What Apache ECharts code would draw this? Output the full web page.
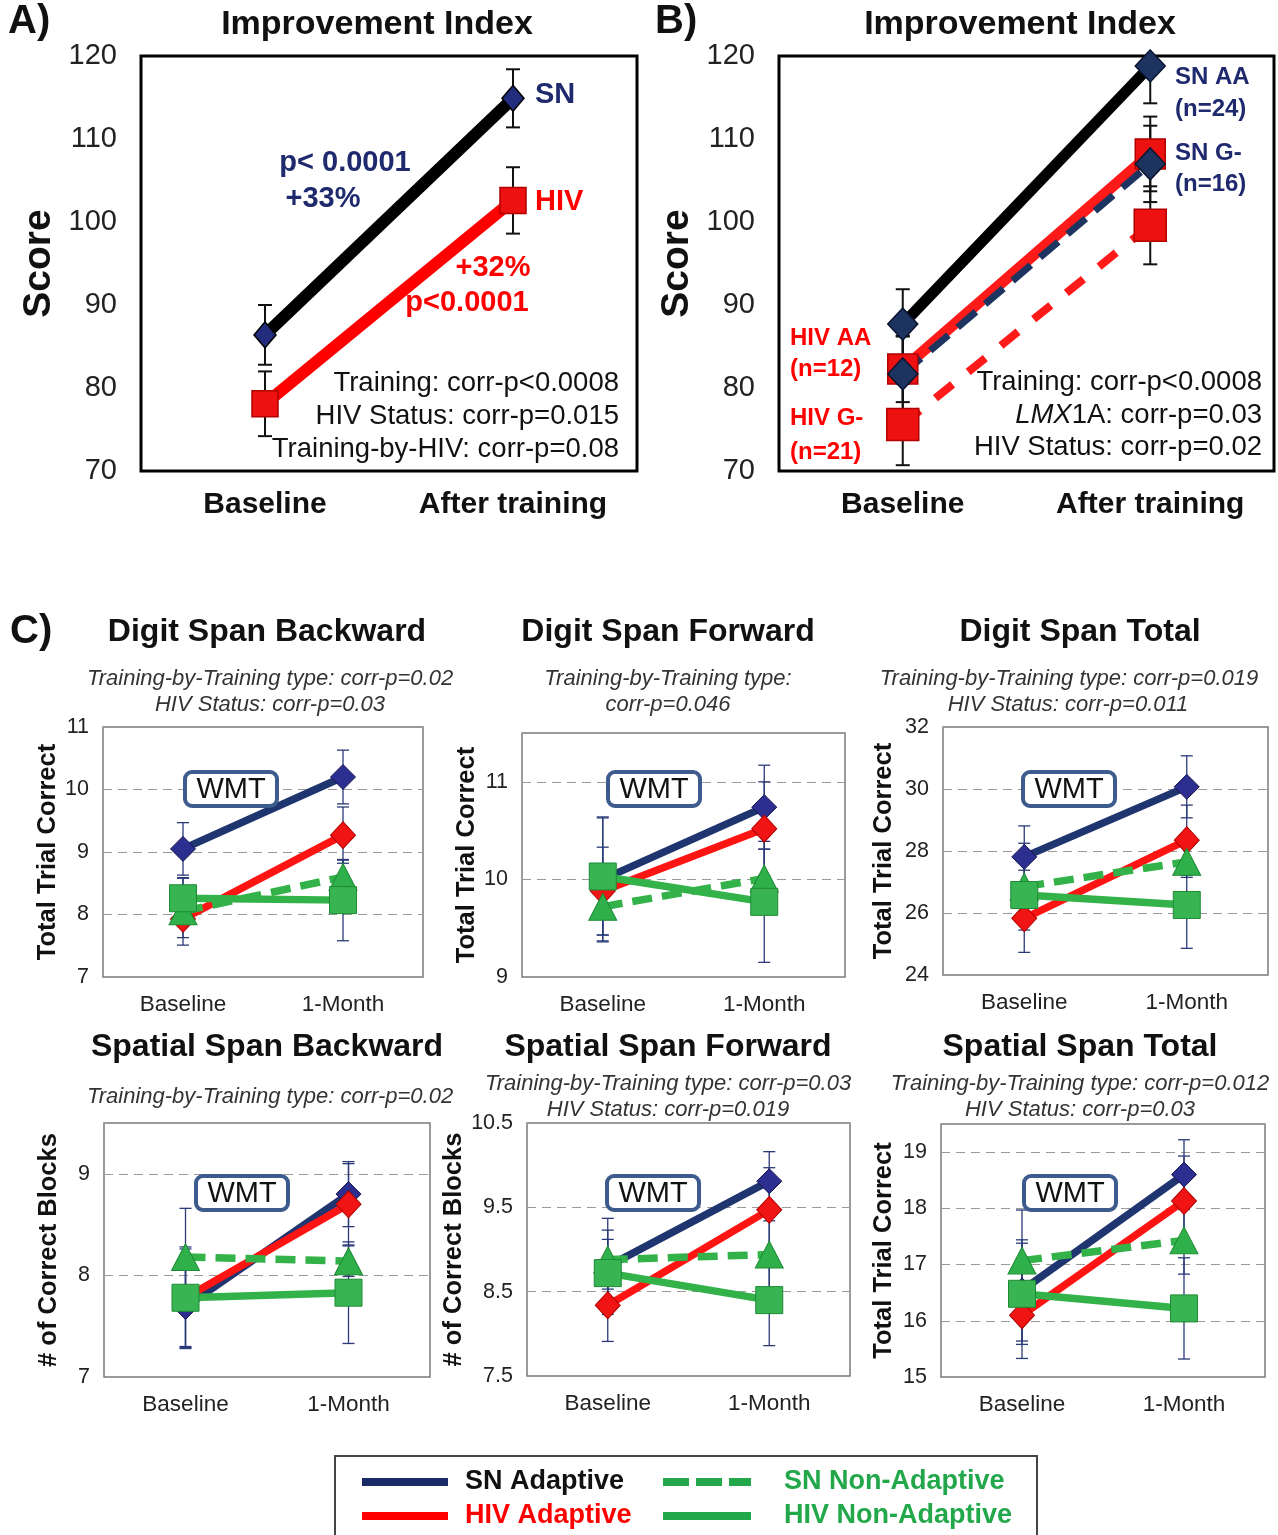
<!DOCTYPE html>
<html><head><meta charset="utf-8">
<script src="https://cdn.jsdelivr.net/npm/echarts@6/dist/echarts.min.js"></script>
<style>html,body{margin:0;padding:0;background:#fff}#c{width:1278px;height:1535px}</style>
</head><body><div id="c"></div>
<script>
// ---------------- DATA ----------------
const catsAB = ['Baseline', 'After training'];
const catsC = ['Baseline', '1-Month'];

// Panel A (Improvement Index)
const aSN = [86.4, 114.9];
const aSNErr = [3.6, 3.5];
const aHIV = [78.1, 102.6];
const aHIVErr = [3.9, 4.0];
const aTicks = [70, 80, 90, 100, 110, 120];

// Panel B (Improvement Index by LMX1A)
const bSNAA = [87.7, 118.8];
const bSNAAErr = [4.2, 4.5];
const bHIVAA = [82.3, 108.2];
const bHIVAAErr = [4.0, 4.5];
const bSNG = [81.7, 107.0];
const bSNGErr = [4.5, 4.6];
const bHIVG = [75.6, 99.6];
const bHIVGErr = [4.9, 4.7];
const bTicks = [70, 80, 90, 100, 110, 120];

// Panel C: Digit Span Backward
const dsbSNA = [9.05, 10.2];   const dsbSNAErr = [0.42, 0.43];
const dsbHIVA = [7.93, 9.27];  const dsbHIVAErr = [0.3, 0.45];
const dsbSNN = [8.05, 8.6];    const dsbSNNErr = [0.54, 0.27];
const dsbHIVN = [8.26, 8.23];  const dsbHIVNErr = [0.32, 0.65];
const dsbTicks = [7, 8, 9, 10, 11];
// Digit Span Forward
const dsfSNA = [10.0, 10.74];  const dsfSNAErr = [0.64, 0.43];
const dsfHIVA = [9.88, 10.52]; const dsfHIVAErr = [0.45, 0.48];
const dsfSNN = [9.72, 10.01];  const dsfSNNErr = [0.35, 0.3];
const dsfHIVN = [10.03, 9.77]; const dsfHIVNErr = [0.6, 0.62];
const dsfTicks = [9, 10, 11];
// Digit Span Total
const dstSNA = [27.81, 30.07]; const dstSNAErr = [1.0, 1.0];
const dstHIVA = [25.83, 28.35]; const dstHIVAErr = [1.1, 1.13];
const dstSNN = [26.85, 27.65]; const dstSNNErr = [1.4, 0.5];
const dstHIVN = [26.58, 26.26]; const dstHIVNErr = [0.8, 1.4];
const dstTicks = [24, 26, 28, 30, 32];
// Spatial Span Backward
const ssbSNA = [7.69, 8.8];    const ssbSNAErr = [0.4, 0.32];
const ssbHIVA = [7.78, 8.7];   const ssbHIVAErr = [0.48, 0.4];
const ssbSNN = [8.18, 8.14];   const ssbSNNErr = [0.48, 0.15];
const ssbHIVN = [7.78, 7.83];  const ssbHIVNErr = [0.5, 0.5];
const ssbTicks = [7, 8, 9];
// Spatial Span Forward
const ssfSNA = [8.8, 9.81];    const ssfSNAErr = [0.57, 0.35];
const ssfHIVA = [8.34, 9.47];  const ssfHIVAErr = [0.43, 0.5];
const ssfSNN = [8.88, 8.94];   const ssfSNNErr = [0.35, 0.4];
const ssfHIVN = [8.72, 8.4];   const ssfHIVNErr = [0.4, 0.54];
const ssfTicks = [7.5, 8.5, 9.5, 10.5];
// Spatial Span Total
const sstSNA = [16.54, 18.6];  const sstSNAErr = [0.9, 0.62];
const sstHIVA = [16.1, 18.13]; const sstHIVAErr = [0.77, 0.8];
const sstSNN = [17.07, 17.43]; const sstSNNErr = [0.9, 0.6];
const sstHIVN = [16.48, 16.22]; const sstHIVNErr = [0.9, 0.9];
const sstTicks = [15, 16, 17, 18, 19];

// ---------------- STYLE / LAYOUT ----------------
const FONT = 'Liberation Sans, Arial, sans-serif';
const NAVY = '#1f3570', RED = '#ff1414', GREEN = '#33b24a';

const grids = [
  {left: 141, top: 56, width: 496, height: 415},   // A
  {left: 779, top: 56, width: 495, height: 415},   // B
  {left: 103, top: 727, width: 320, height: 250},  // C1
  {left: 522, top: 733, width: 323, height: 244},  // C2
  {left: 943, top: 727, width: 325, height: 248},  // C3
  {left: 104, top: 1123, width: 326, height: 254}, // C4
  {left: 527, top: 1123, width: 323, height: 253}, // C5
  {left: 941, top: 1124, width: 324, height: 253}  // C6
];

function tickFmt(ticks) {
  return v => ticks.some(t => Math.abs(t - v) < 1e-6) ? String(v) : '';
}

const cPanels = [
  {d: [dsbSNA, dsbHIVA, dsbSNN, dsbHIVN], e: [dsbSNAErr, dsbHIVAErr, dsbSNNErr, dsbHIVNErr], ticks: dsbTicks, min: 7, max: 11, interval: 1, yName: 'Total Trial Correct', gap: 40},
  {d: [dsfSNA, dsfHIVA, dsfSNN, dsfHIVN], e: [dsfSNAErr, dsfHIVAErr, dsfSNNErr, dsfHIVNErr], ticks: dsfTicks, min: 9, max: 11.5, interval: 1, yName: 'Total Trial Correct', gap: 42},
  {d: [dstSNA, dstHIVA, dstSNN, dstHIVN], e: [dstSNAErr, dstHIVAErr, dstSNNErr, dstHIVNErr], ticks: dstTicks, min: 24, max: 32, interval: 2, yName: 'Total Trial Correct', gap: 46},
  {d: [ssbSNA, ssbHIVA, ssbSNN, ssbHIVN], e: [ssbSNAErr, ssbHIVAErr, ssbSNNErr, ssbHIVNErr], ticks: ssbTicks, min: 7, max: 9.5, interval: 1, yName: '# of Correct Blocks', gap: 42},
  {d: [ssfSNA, ssfHIVA, ssfSNN, ssfHIVN], e: [ssfSNAErr, ssfHIVAErr, ssfSNNErr, ssfHIVNErr], ticks: ssfTicks, min: 7.5, max: 10.5, interval: 1, yName: '# of Correct Blocks', gap: 51},
  {d: [sstSNA, sstHIVA, sstSNN, sstHIVN], e: [sstSNAErr, sstHIVAErr, sstSNNErr, sstHIVNErr], ticks: sstTicks, min: 15, max: 19.5, interval: 1, yName: 'Total Trial Correct', gap: 44}
];

function errSeries(ax, vals, errs, color, lw, cap) {
  return {
    type: 'custom', xAxisIndex: ax, yAxisIndex: ax, clip: true, silent: true, z: 2,
    data: vals.map((v, i) => [i, v - errs[i], v + errs[i]]),
    encode: {x: 0, y: [1, 2]},
    renderItem(params, api) {
      const x = api.value(0);
      const lo = api.coord([x, api.value(1)]);
      const hi = api.coord([x, api.value(2)]);
      const st = {stroke: color, lineWidth: lw};
      return {type: 'group', children: [
        {type: 'line', shape: {x1: lo[0], y1: lo[1], x2: hi[0], y2: hi[1]}, style: st},
        {type: 'line', shape: {x1: lo[0] - cap, y1: lo[1], x2: lo[0] + cap, y2: lo[1]}, style: st},
        {type: 'line', shape: {x1: hi[0] - cap, y1: hi[1], x2: hi[0] + cap, y2: hi[1]}, style: st}
      ]};
    }
  };
}

const xAxes = [], yAxes = [], gridOpts = [];
grids.forEach((g, i) => {
  const big = i < 2;
  gridOpts.push(Object.assign({show: true, borderColor: big ? '#000' : '#7a7a7a', borderWidth: big ? 3 : 1.5, backgroundColor: 'transparent'}, g));
  xAxes.push({
    type: 'category', gridIndex: i, data: big ? catsAB : catsC, boundaryGap: true,
    axisLine: {show: false}, axisTick: {show: false}, splitLine: {show: false},
    axisLabel: big ? {fontSize: 30, fontWeight: 'bold', color: '#111', margin: 19, fontFamily: FONT}
                   : {fontSize: 22.5, color: '#222', margin: 16, fontFamily: FONT}
  });
});
// A & B y axes
[aTicks, bTicks].forEach((t, i) => {
  yAxes.push({
    type: 'value', gridIndex: i, min: 70, max: 120, interval: 10,
    name: 'Score', nameLocation: 'middle', nameRotate: 90, nameGap: 82,
    nameTextStyle: {fontSize: 39, fontWeight: 'bold', color: '#111', fontFamily: FONT},
    axisLine: {show: false}, axisTick: {show: false}, splitLine: {show: false},
    axisLabel: {fontSize: 29, color: '#222', margin: 24, fontFamily: FONT, formatter: tickFmt(t)}
  });
});
cPanels.forEach((p, k) => {
  yAxes.push({
    type: 'value', gridIndex: k + 2, min: p.min, max: p.max, interval: p.interval,
    name: p.yName, nameLocation: 'middle', nameRotate: 90, nameGap: p.gap,
    nameTextStyle: {fontSize: 25.5, fontWeight: 'bold', color: '#111', fontFamily: FONT},
    axisLine: {show: false}, axisTick: {show: false},
    splitLine: {show: true, lineStyle: {color: '#9a9a9a', type: [9, 6], width: 1.2}},
    axisLabel: {fontSize: 21.5, color: '#222', margin: 14, fontFamily: FONT, formatter: tickFmt(p.ticks)}
  });
});

const series = [];
// error bars first (drawn beneath lines/markers)
series.push(errSeries(0, aSN, aSNErr, '#111', 2, 7));
series.push(errSeries(0, aHIV, aHIVErr, '#111', 2, 7));
series.push(errSeries(1, bSNAA, bSNAAErr, '#111', 2, 7));
series.push(errSeries(1, bHIVAA, bHIVAAErr, '#111', 2, 7));
series.push(errSeries(1, bSNG, bSNGErr, '#111', 2, 7));
series.push(errSeries(1, bHIVG, bHIVGErr, '#111', 2, 7));
cPanels.forEach((p, k) => {
  p.d.forEach((vals, j) => series.push(errSeries(k + 2, vals, p.e[j], '#2a3a78', 1.3, 6)));
});

// Panel A lines
series.push({type: 'line', name: 'A SN', xAxisIndex: 0, yAxisIndex: 0, data: aSN, z: 3,
  lineStyle: {color: '#000', width: 12}, symbol: 'diamond', symbolSize: [22, 26],
  itemStyle: {color: '#232d7d', borderColor: '#000', borderWidth: 1.5}});
series.push({type: 'line', name: 'A HIV', xAxisIndex: 0, yAxisIndex: 0, data: aHIV, z: 3,
  lineStyle: {color: '#ff0000', width: 12}, symbol: 'rect', symbolSize: 26,
  itemStyle: {color: '#ee1111', borderColor: '#b00000', borderWidth: 1.5}});
// Panel B lines
series.push({type: 'line', name: 'B SN AA', xAxisIndex: 1, yAxisIndex: 1, data: bSNAA, z: 3,
  lineStyle: {color: '#000', width: 11}, symbol: 'diamond', symbolSize: [30, 32],
  itemStyle: {color: '#1d3461', borderColor: '#0b1530', borderWidth: 1.5}});
series.push({type: 'line', name: 'B HIV G-', xAxisIndex: 1, yAxisIndex: 1, data: bHIVG, z: 3,
  lineStyle: {color: '#ff1a1a', width: 8, type: [22, 20]}, symbol: 'rect', symbolSize: 32,
  itemStyle: {color: '#ee1111', borderColor: '#b00000', borderWidth: 1.5}});
series.push({type: 'line', name: 'B HIV AA', xAxisIndex: 1, yAxisIndex: 1, data: bHIVAA, z: 3,
  lineStyle: {color: '#ff1a1a', width: 11}, symbol: 'rect', symbolSize: 30,
  itemStyle: {color: '#ee1111', borderColor: '#b00000', borderWidth: 1.5}});
series.push({type: 'line', name: 'B SN G-', xAxisIndex: 1, yAxisIndex: 1, data: bSNG, z: 3,
  lineStyle: {color: '#1d3461', width: 7, type: [24, 12]}, symbol: 'diamond', symbolSize: [30, 32],
  itemStyle: {color: '#1d3461', borderColor: '#0b1530', borderWidth: 1.5}});

// Panel C lines
const cStyles = [
  {name: 'SN Adaptive', line: {color: NAVY, width: 7.5}, symbol: 'diamond', size: [25, 25], item: {color: '#2c2f8f', borderColor: '#15154f', borderWidth: 1}},
  {name: 'HIV Adaptive', line: {color: RED, width: 7.5}, symbol: 'diamond', size: [25, 27], item: {color: '#f01414', borderColor: '#b00000', borderWidth: 1}},
  {name: 'SN Non-Adaptive', line: {color: GREEN, width: 7.5, type: [20, 10]}, symbol: 'triangle', size: [28, 27], item: {color: '#2fb04a', borderColor: '#1d8a35', borderWidth: 1}},
  {name: 'HIV Non-Adaptive', line: {color: GREEN, width: 7.5}, symbol: 'rect', size: 27, item: {color: '#38b552', borderColor: '#1d8a35', borderWidth: 1}}
];
cPanels.forEach((p, k) => {
  p.d.forEach((vals, j) => {
    const s = cStyles[j];
    series.push({type: 'line', name: s.name, xAxisIndex: k + 2, yAxisIndex: k + 2, data: vals, z: 3,
      lineStyle: s.line, symbol: s.symbol, symbolSize: s.size, itemStyle: s.item});
  });
});

// ---------------- TEXT ----------------
function txt(x, y, text, size, opt) {
  return {type: 'text', x, y, silent: true, z: 10, style: Object.assign({
    text, font: (opt && opt.font) || ('bold ' + size + 'px ' + FONT), fill: '#111',
    textAlign: 'center', textVerticalAlign: 'middle'}, opt || {})};
}
function fnt(style, weight, size) { return style + ' ' + weight + ' ' + size + 'px ' + FONT; }
const IT = fnt('italic', 'normal', 22);
const REG26 = fnt('normal', 'normal', 27.5);
const graphics = [
  txt(8, 22, 'A)', 40, {textAlign: 'left'}),
  txt(377, 25, 'Improvement Index', 34),
  txt(535, 95, 'SN', 29, {textAlign: 'left', fill: '#1f2a6e'}),
  txt(535, 202, 'HIV', 29, {textAlign: 'left', fill: '#ff0000'}),
  txt(345, 163, 'p< 0.0001', 29, {fill: '#1f2a6e'}),
  txt(323, 199, '+33%', 29, {fill: '#1f2a6e'}),
  txt(493, 268, '+32%', 29, {fill: '#ff0000'}),
  txt(467, 303, 'p<0.0001', 29, {fill: '#ff0000'}),
  txt(619, 383, 'Training: corr-p<0.0008', 26, {font: REG26, textAlign: 'right'}),
  txt(619, 416, 'HIV Status: corr-p=0.015', 26, {font: REG26, textAlign: 'right'}),
  txt(619, 449, 'Training-by-HIV: corr-p=0.08', 26, {font: REG26, textAlign: 'right'}),

  txt(655, 22, 'B)', 40, {textAlign: 'left'}),
  txt(1020, 25, 'Improvement Index', 34),
  txt(1175, 77, 'SN AA', 24, {textAlign: 'left', fill: '#1f2a6e'}),
  txt(1175, 109, '(n=24)', 24, {textAlign: 'left', fill: '#1f2a6e'}),
  txt(1175, 153, 'SN G-', 24, {textAlign: 'left', fill: '#1f2a6e'}),
  txt(1175, 184, '(n=16)', 24, {textAlign: 'left', fill: '#1f2a6e'}),
  txt(790, 338, 'HIV AA', 24, {textAlign: 'left', fill: '#ff0000'}),
  txt(790, 369, '(n=12)', 24, {textAlign: 'left', fill: '#ff0000'}),
  txt(790, 418, 'HIV G-', 24, {textAlign: 'left', fill: '#ff0000'}),
  txt(790, 452, '(n=21)', 24, {textAlign: 'left', fill: '#ff0000'}),
  txt(1262, 382, 'Training: corr-p<0.0008', 26, {font: REG26, textAlign: 'right'}),
  {type: 'text', x: 1262, y: 415, silent: true, z: 10, style: {text: '{i|LMX}1A: corr-p=0.03', font: REG26, fill: '#111', textAlign: 'right', textVerticalAlign: 'middle',
    rich: {i: {font: fnt('italic', 'normal', 27.5), fill: '#111'}}}},
  txt(1262, 447, 'HIV Status: corr-p=0.02', 26, {font: REG26, textAlign: 'right'}),

  txt(10, 632, 'C)', 40, {textAlign: 'left'}),
  txt(267, 632, 'Digit Span Backward', 32),
  txt(668, 632, 'Digit Span Forward', 32),
  txt(1080, 632, 'Digit Span Total', 32),
  txt(267, 1047, 'Spatial Span Backward', 32),
  txt(668, 1047, 'Spatial Span Forward', 32),
  txt(1080, 1047, 'Spatial Span Total', 32),
  txt(270, 679, 'Training-by-Training type: corr-p=0.02', 21, {font: IT, fill: '#333'}),
  txt(270, 705, 'HIV Status: corr-p=0.03', 21, {font: IT, fill: '#333'}),
  txt(668, 679, 'Training-by-Training type:', 21, {font: IT, fill: '#333'}),
  txt(668, 705, 'corr-p=0.046', 21, {font: IT, fill: '#333'}),
  txt(1069, 679, 'Training-by-Training type: corr-p=0.019', 21, {font: IT, fill: '#333'}),
  txt(1068, 705, 'HIV Status: corr-p=0.011', 21, {font: IT, fill: '#333'}),
  txt(270, 1097, 'Training-by-Training type: corr-p=0.02', 21, {font: IT, fill: '#333'}),
  txt(668, 1084, 'Training-by-Training type: corr-p=0.03', 21, {font: IT, fill: '#333'}),
  txt(668, 1110, 'HIV Status: corr-p=0.019', 21, {font: IT, fill: '#333'}),
  txt(1080, 1084, 'Training-by-Training type: corr-p=0.012', 21, {font: IT, fill: '#333'}),
  txt(1080, 1110, 'HIV Status: corr-p=0.03', 21, {font: IT, fill: '#333'}),

  // legend frame
  {type: 'rect', shape: {x: 335, y: 1456, width: 702, height: 90}, silent: true, z: 0,
    style: {fill: 'none', stroke: '#444', lineWidth: 2}}
];
// WMT boxes
[[231, 789], [654, 789], [1069, 789], [242, 1193], [653, 1193], [1070, 1193]].forEach(([cx, cy]) => {
  graphics.push({type: 'rect', shape: {x: cx - 46, y: cy - 17, width: 92, height: 34, r: 7}, silent: true, z: 9,
    style: {fill: '#fff', stroke: '#3d5b8c', lineWidth: 4}});
  graphics.push(txt(cx, cy + 1, 'WMT', 29, {font: fnt('normal', 'normal', 29)}));
});

const legendText = {fontSize: 27, fontWeight: 'bold', fontFamily: FONT, padding: [0, 0, 0, 12], lineHeight: 30};
const option = {
  animation: false,
  backgroundColor: '#fff',
  grid: gridOpts,
  xAxis: xAxes,
  yAxis: yAxes,
  series,
  graphic: graphics,
  legend: [
    {left: 362, top: 1467, orient: 'vertical', itemWidth: 86, itemHeight: 8, itemGap: 4, selectedMode: false, padding: 0,
      textStyle: legendText,
      data: [
        {name: 'SN Adaptive', icon: 'rect', itemStyle: {color: '#1a2a66', borderWidth: 0}, textStyle: {color: '#111'}},
        {name: 'HIV Adaptive', icon: 'rect', itemStyle: {color: '#ff0000', borderWidth: 0}, textStyle: {color: '#ff0000'}}
      ]},
    {left: 663, top: 1467, orient: 'vertical', itemWidth: 88, itemHeight: 8, itemGap: 4, selectedMode: false, padding: 0,
      textStyle: Object.assign({}, legendText, {padding: [0, 0, 0, 28]}),
      data: [
        {name: 'SN Non-Adaptive', icon: 'path://M0,0h26v8h-26zM33,0h26v8h-26zM66,0h22v8h-22z', itemStyle: {color: '#22a84a', borderWidth: 0}, textStyle: {color: '#22a84a'}},
        {name: 'HIV Non-Adaptive', icon: 'rect', itemStyle: {color: '#22a84a', borderWidth: 0}, textStyle: {color: '#22a84a'}}
      ]}
  ]
};
const chart = echarts.init(document.getElementById('c'), null, {renderer: 'canvas'});
chart.setOption(option);
</script></body></html>
